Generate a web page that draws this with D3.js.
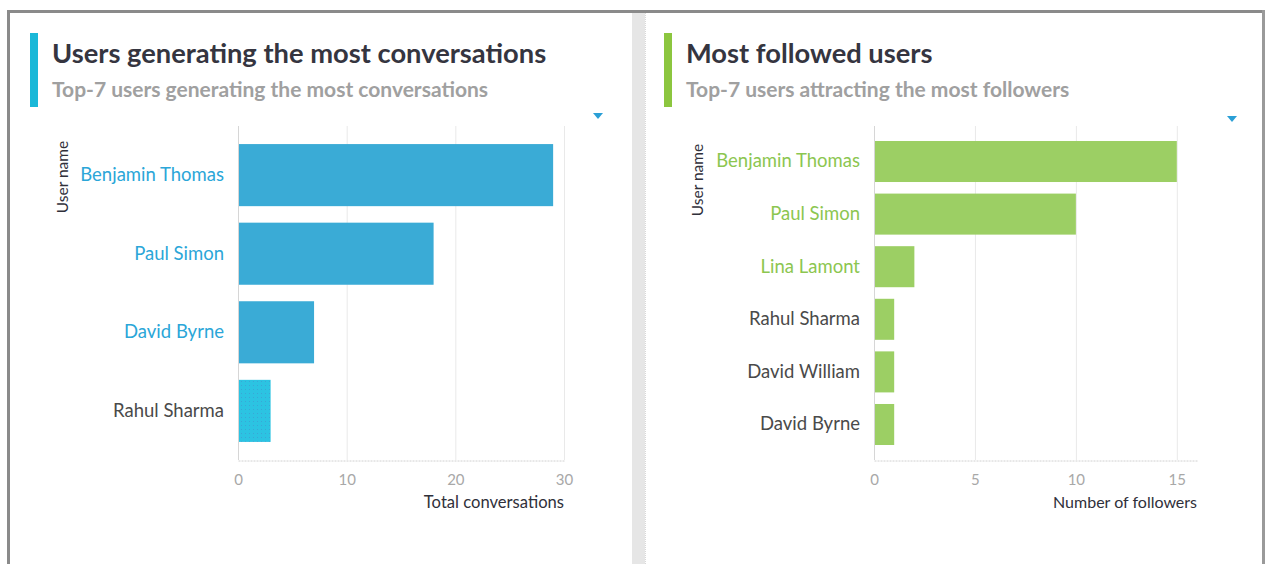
<!DOCTYPE html>
<html>
<head>
<meta charset="utf-8">
<script src="https://cdn.jsdelivr.net/npm/d3@7"></script>
<style>
  html, body { margin: 0; padding: 0; background: #fff; }
  svg { display: block; }
  text { font-family: Lato, "DejaVu Sans", sans-serif; }
</style>
</head>
<body>
<svg id="dash" width="1266" height="564"></svg>
<script>
// Conversation leaders
const convUsers = ["Benjamin Thomas", "Paul Simon", "David Byrne", "Rahul Sharma"];
const convCounts = [29, 18, 7, 3];
const convLinked = [true, true, true, false];
const convTicks = [0, 10, 20, 30];

// Follower leaders
const followUsers = ["Benjamin Thomas", "Paul Simon", "Lina Lamont", "Rahul Sharma", "David William", "David Byrne"];
const followCounts = [15, 10, 2, 1, 1, 1];
const followLinked = [true, true, true, false, false, false];
const followTicks = [0, 5, 10, 15];

const svg = d3.select("#dash");

// dotted fill used for the hovered bar
const defs = svg.append("defs");
const pat = defs.append("pattern")
  .attr("id", "hoverDots").attr("width", 4).attr("height", 4)
  .attr("patternUnits", "userSpaceOnUse");
pat.append("rect").attr("width", 4).attr("height", 4).attr("fill", "#2cc3e2");
pat.append("rect").attr("x", 1).attr("y", 1).attr("width", 1).attr("height", 1).attr("fill", "#3aa6d6");

// outer frame and divider
svg.append("rect").attr("x", 7).attr("y", 10).attr("width", 1258).attr("height", 3).attr("fill", "#8a8a8a");
svg.append("rect").attr("x", 7).attr("y", 10).attr("width", 3).attr("height", 560).attr("fill", "#8a8a8a");
svg.append("rect").attr("x", 1262).attr("y", 10).attr("width", 3).attr("height", 560).attr("fill", "#9a9a9a");
svg.append("rect").attr("x", 632).attr("y", 13).attr("width", 13).attr("height", 560).attr("fill", "#e6e6e6");
svg.append("line").attr("x1", 645.5).attr("x2", 645.5).attr("y1", 13).attr("y2", 564)
  .attr("stroke", "#d8d8d8").attr("stroke-dasharray", "1,1");

function panel(cfg) {
  const g = svg.append("g");

  // header
  g.append("rect").attr("x", cfg.left).attr("y", 33).attr("width", 8).attr("height", 74).attr("fill", cfg.accent);
  g.append("text").attr("x", cfg.left + 22).attr("y", 63)
    .attr("font-size", 27.3).attr("font-weight", "bold").attr("fill", "#353540")
    .text(cfg.title);
  g.append("text").attr("x", cfg.left + 22).attr("y", 97)
    .attr("font-size", 21).attr("font-weight", "bold").attr("fill", "#a0a0a0")
    .text(cfg.subtitle);

  // menu caret
  g.append("path")
    .attr("d", `M${cfg.caretX - 5},${cfg.caretY - 3} L${cfg.caretX + 5},${cfg.caretY - 3} L${cfg.caretX},${cfg.caretY + 3} Z`)
    .attr("fill", "#2a9fd6");

  const x = d3.scaleLinear().domain([0, cfg.max]).range([cfg.x0, cfg.x1]);
  const y = d3.scaleBand().domain(cfg.users).range([126, 460])
    .paddingInner(cfg.padIn).paddingOuter(cfg.padOut);

  // vertical grid
  g.append("g").selectAll("line").data(cfg.ticks.slice(1)).join("line")
    .attr("x1", d => x(d) + 0.5).attr("x2", d => x(d) + 0.5)
    .attr("y1", 126).attr("y2", 460)
    .attr("stroke", "#e9e9e9");

  // bars
  g.append("g").selectAll("rect").data(cfg.users).join("rect")
    .attr("x", x(0) + 1)
    .attr("y", d => y(d))
    .attr("width", (d, i) => x(cfg.values[i]) - x(0) - 1)
    .attr("height", y.bandwidth())
    .attr("fill", (d, i) => (cfg.hover === i ? "url(#hoverDots)" : cfg.barColor));

  // axes
  g.append("line").attr("x1", x(0) + 0.5).attr("x2", x(0) + 0.5).attr("y1", 126).attr("y2", 460)
    .attr("stroke", "#d6d6d6");
  const xAxis = d3.axisBottom(x).tickValues(cfg.ticks).tickSize(0).tickPadding(14);
  const ax = g.append("g").attr("transform", "translate(0,460.5)").call(xAxis);
  ax.select(".domain").attr("stroke", "#d0d0d0").attr("stroke-dasharray", "2,1");
  ax.selectAll(".tick text").attr("font-size", 15).attr("fill", "#a8a8a8")
    .attr("font-family", null);

  const yAxis = d3.axisLeft(y).tickSize(0).tickPadding(14);
  const ay = g.append("g").attr("transform", `translate(${x(0)},0)`).call(yAxis);
  ay.select(".domain").remove();
  ay.selectAll(".tick text").attr("font-size", 18.5).attr("font-family", null)
    .attr("fill", (d, i) => (cfg.linked[i] ? cfg.linkColor : "#4a4a4a"));

  // axis titles
  g.append("text").attr("x", cfg.x1).attr("y", 508).attr("text-anchor", "end")
    .attr("font-size", cfg.xTitleSize).attr("fill", "#30303a").text(cfg.xTitle);
  g.append("text")
    .attr("transform", `translate(${cfg.yTitleX},${cfg.yTitleY}) rotate(-90)`)
    .attr("text-anchor", "middle").attr("font-size", 15.5).attr("fill", "#30303a")
    .text("User name");
}

panel({
  left: 30, accent: "#1ab8d8",
  title: "Users generating the most conversations",
  subtitle: "Top-7 users generating the most conversations",
  caretX: 598, caretY: 116,
  users: convUsers, values: convCounts, linked: convLinked, ticks: convTicks,
  max: 30, x0: 238, x1: 564, padIn: 0.21, padOut: 0.23,
  barColor: "#3aabd6", linkColor: "#2ba6d8", hover: 3,
  xTitle: "Total conversations", xTitleSize: 16.6, yTitleX: 68, yTitleY: 177
});

panel({
  left: 664, accent: "#8cc63f",
  title: "Most followed users",
  subtitle: "Top-7 users attracting the most followers",
  caretX: 1232, caretY: 119,
  users: followUsers, values: followCounts, linked: followLinked, ticks: followTicks,
  max: 16, x0: 874, x1: 1197, padIn: 0.22, padOut: 0.285,
  barColor: "#9ccf64", linkColor: "#8cc650", hover: -1,
  xTitle: "Number of followers", xTitleSize: 16, yTitleX: 703, yTitleY: 180
});
</script>
</body>
</html>
